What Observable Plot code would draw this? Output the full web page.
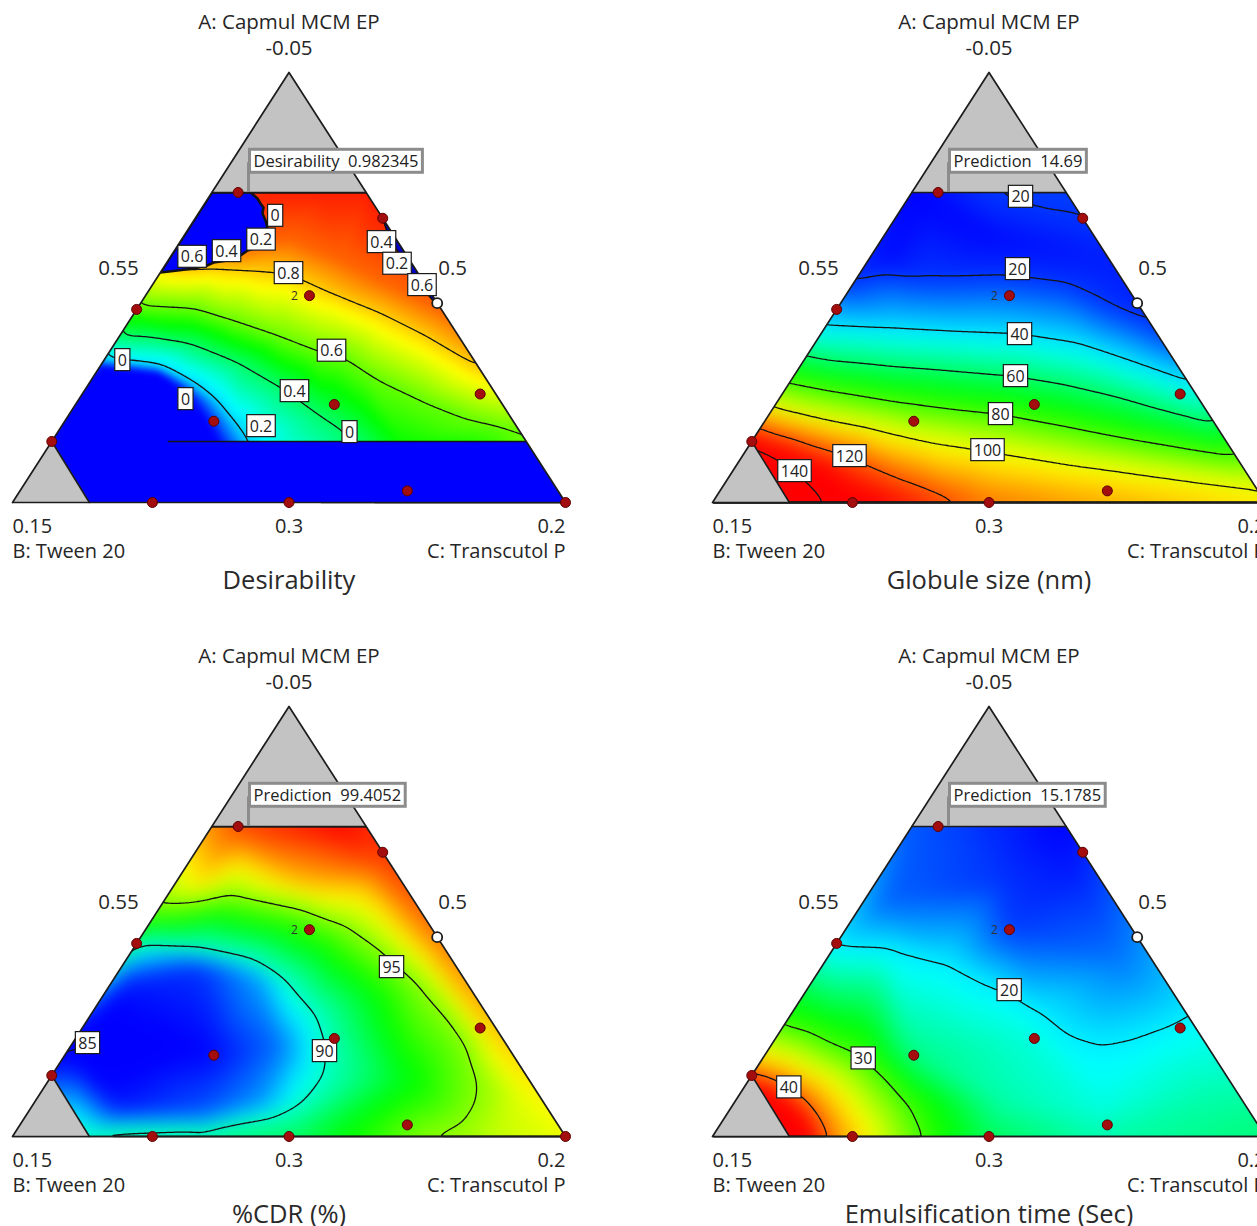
<!DOCTYPE html>
<html><head><meta charset="utf-8">
<script src="https://cdn.jsdelivr.net/npm/d3@7"></script>
<script src="https://cdn.jsdelivr.net/npm/@observablehq/plot@0.6"></script>
<style>
html,body{margin:0;padding:0;background:#fff}
body{width:1257px;height:1226px;overflow:hidden;position:relative;font-family:'Open Sans',sans-serif}
.panel{position:absolute;width:640px;height:600px}
.panel svg{max-width:none!important}
</style></head><body>
<div id="p0" class="panel" style="left:0;top:0"></div>
<div id="p1" class="panel" style="left:700px;top:0"></div>
<div id="p2" class="panel" style="left:0;top:634px"></div>
<div id="p3" class="panel" style="left:700px;top:634px"></div>
<script>
// ---------- shared text ----------
const componentNames = ["A: Capmul MCM EP", "B: Tween 20", "C: Transcutol P"];
const vertexTicks = ["-0.05", "0.15", "0.2"];          // A apex, B left, C right
const edgeTicks = ["0.55", "0.5", "0.3"];              // A-B edge, A-C edge, B-C edge
const panelTitles = ["Desirability", "Globule size (nm)", "%CDR (%)", "Emulsification time (Sec)"];
const predLabels = ["Desirability", "Prediction", "Prediction", "Prediction"];
const predValues = ["0.982345", "14.69", "99.4052", "15.1785"];

// ternary plane: x along B-C base (0..1), y height towards A (0..1)
const CUT_A = 0.7209;                 // upper constraint (top grey region)
const CUT_B = [[0.071, 0.1419], [0.139, 0]]; // lower-left constraint (grey corner)
const PRED_X = 0.4268;

// design points [x, y, kind]
const designPts = [
  [0.408, 0.7209, "r"], [0.6695, 0.661, "r"], [0.537, 0.481, "r"], [0.768, 0.4635, "w"],
  [0.2245, 0.449, "r"], [0.8457, 0.2523, "r"], [0.582, 0.228, "r"], [0.364, 0.189, "r"],
  [0.071, 0.1419, "r"], [0.714, 0.027, "r"], [0.253, 0, "r"], [0.5, 0, "r"], [1, 0, "r"]
];

// ---------- Panel 1: Desirability ----------
const des_097 = [[0.4665,0.7209],[0.5570,0.7209],[0.6383,0.7209],[0.6655,0.6674],[0.5208,0.7721]];
const des_090 = [[0.2676,0.5977],[0.3942,0.5907],[0.5027,0.6093],[0.5931,0.5628],[0.6835,0.5047],[0.7830,0.4419]];
const des_080 = [[0.2495,0.5581],[0.3110,0.5395],[0.3671,0.5442],[0.4304,0.5395],[0.5009,0.5302],[0.5678,0.4907],[0.6709,0.4372],[0.7396,0.3930],[0.8101,0.3395],[0.8463,0.3116]];
const des_060 = [[0.2260,0.4581],[0.3255,0.4512],[0.3942,0.4233],[0.4846,0.3837],[0.5515,0.3512],[0.6022,0.3349],[0.6474,0.2953],[0.7432,0.2372],[0.8336,0.1907],[0.9150,0.1651]];
const des_040 = [[0.1899,0.3884],[0.3219,0.3698],[0.4123,0.3233],[0.4901,0.2651],[0.5624,0.1977],[0.5986,0.1674],[0.6239,0.1442],[0.6383,0.0977]];
const des_020 = [[0.1609,0.3302],[0.2622,0.3140],[0.3219,0.2767],[0.3707,0.2302],[0.3996,0.1837],[0.4213,0.1442],[0.4304,0.0977]];
const des_000 = [[0.1573,0.3186],[0.2622,0.3023],[0.3128,0.2558],[0.3490,0.1953],[0.3725,0.1395],[0.3852,0.0744]];
const des_extra = [
  {v:0.5,x:0.7016,y:0.1326},{v:0.55,x:0.8644,y:0.1488},
  {v:-0.5,x:0.0868,y:0.1907},{v:-0.5,x:0.1953,y:0.1674},{v:-0.5,x:0.2495,y:0.0512},{v:-0.3,x:0.1410,y:0.2605}
];
const des_zeroTopLeft = [[0.3605,0.7209],[0.4304,0.7209],[0.4430,0.7070],[0.4485,0.6953],[0.4539,0.6860],[0.4521,0.6721],[0.4575,0.6558],[0.4611,0.6395],[0.4485,0.6256],[0.4539,0.6140],[0.4430,0.5930],[0.4250,0.5860],[0.4123,0.5744],[0.3888,0.5628],[0.3635,0.5581],[0.3526,0.5512],[0.3273,0.5442],[0.2984,0.5395],[0.2674,0.5349],[0.3605,0.7209]];
const des_zeroRight = [[0.6686,0.6628],[0.7674,0.4651],[0.7631,0.4651],[0.7378,0.5047],[0.7161,0.5442],[0.6980,0.5814],[0.6799,0.6209],[0.6686,0.6628]];
const des_zeroBottom = [[0.0710,0.1419],[0.9290,0.1419],[1,0],[0.1390,0],[0.0710,0.1419]];
const des_zeroEdge = [[0.2821,0.1419],[0.9290,0.1419]];
const des_labels = [["0",0.4750,0.6658],["0.2",0.4494,0.6105],["0.4",0.3870,0.5837],["0.6",0.3248,0.5705],["0.8",0.4991,0.5326],
  ["0.4",0.6673,0.6047],["0.2",0.6953,0.5544],["0.6",0.7405,0.5047],["0",0.1986,0.3302],["0.6",0.5769,0.3521],
  ["0.4",0.5099,0.2581],["0",0.3128,0.2395],["0.2",0.4494,0.1767],["0",0.6094,0.1628]];

// ---------- Panel 2: Globule size ----------
const gs_20a = [[0.4800,0.7350],[0.4937,0.7186],[0.5208,0.7070],[0.5570,0.6907],[0.5986,0.6791],[0.6420,0.6721],[0.6745,0.6651],[0.7000,0.6600]];
const gs_20b = [[0.2405,0.5070],[0.3888,0.5186],[0.5271,0.5233],[0.6311,0.5070],[0.6998,0.4663],[0.7500,0.4380],[0.7893,0.4140],[0.8011,0.4070],[0.8300,0.3900]];
const gs_40 = [[0.1890,0.4130],[0.3201,0.4047],[0.4575,0.3953],[0.5552,0.3907],[0.6655,0.3686],[0.7685,0.3242],[0.8680,0.2791]];
const gs_60 = [[0.1537,0.3442],[0.2166,0.3286],[0.3201,0.3163],[0.4237,0.3065],[0.5479,0.2930],[0.6307,0.2753],[0.7342,0.2442],[0.8170,0.2133],[0.9114,0.1814]];
const gs_80 = [[0.1266,0.2798],[0.2166,0.2577],[0.3201,0.2353],[0.4237,0.2177],[0.5203,0.2047],[0.6307,0.1777],[0.7342,0.1512],[0.8372,0.1288],[0.9476,0.1070]];
const gs_100 = [[0.1096,0.2221],[0.1958,0.1953],[0.2857,0.1733],[0.3888,0.1423],[0.4991,0.1209],[0.6307,0.0935],[0.7342,0.0756],[0.8584,0.0535],[0.9873,0.0337]];
const gs_120 = [[0.0814,0.1698],[0.1682,0.1379],[0.2477,0.1070],[0.3544,0.0488],[0.4448,0.0047],[0.4756,-0.0186]];
const gs_140 = [[0.0796,0.1372],[0.1193,0.1023],[0.1591,0.0605],[0.2025,0.0047],[0.2170,-0.0186]];
const gs_extra = [
  {v:14,x:0.3761,y:0.7140},{v:14,x:0.3400,y:0.6442},{v:15,x:0.5208,y:0.6093},{v:16,x:0.6293,y:0.5860},
  {v:15,x:0.3038,y:0.5628},{v:21,x:0.6329,y:0.7209},{v:21.5,x:0.6700,y:0.7400},{v:19,x:0.6900,y:0.6200},{v:17,x:0.7100,y:0.5600},
  {v:18,x:0.7600,y:0.4650},{v:18,x:0.7600,y:0.6000},{v:18.5,x:0.8100,y:0.5000},{v:19.5,x:0.8600,y:0.4200},
  {v:150,x:0.1085,y:0.0512},{v:112,x:0.6655,y:0},{v:104,x:1,y:0}
];
const gs_labels = [["20",0.5570,0.7100],["20",0.5515,0.5419],["40",0.5552,0.3907],["60",0.5479,0.2930],
  ["80",0.5208,0.2047],["100",0.4973,0.1209],["120",0.2477,0.1070],["140",0.1483,0.0721]];

// ---------- Panel 3: %CDR ----------
const cdr_85 = [[0.1085,0.2372],[0.1591,0.2302],[0.1844,0.2140],[0.1591,0.1977],[0.1085,0.1884]];
const cdr_90 = [[0.2170,0.4442],[0.3248,0.4372],[0.4286,0.4105],[0.4973,0.3570],[0.5461,0.2860],[0.5642,0.2140],[0.5606,0.1442],[0.5257,0.0814],[0.4629,0.0451],[0.3248,0.0186],[0.1863,0.0140],[0.1230,0.0116]];
const cdr_95 = [[0.2640,0.5372],[0.3942,0.5628],[0.5325,0.5256],[0.6022,0.4907],[0.6709,0.4279],[0.7396,0.3488],[0.7957,0.2674],[0.8250,0.2100],[0.8373,0.1521],[0.8400,0.1150],[0.8373,0.0814],[0.8101,0.0279],[0.7335,-0.0084]];
const cdr_extra = [
  {v:84.5,x:0.0904,y:0.2140},{v:85.3,x:0.2676,y:0.2000},{v:85.6,x:0.3635,y:0.1930},{v:87,x:0.4756,y:0.2116},
  {v:86,x:0.1953,y:0.0558},{v:86.8,x:0.3400,y:0.0488},{v:87.8,x:0.4485,y:0.0721},
  {v:85.8,x:0.1953,y:0.3512},{v:86.3,x:0.3400,y:0.3977},{v:88,x:0.4485,y:0.3744},
  {v:90.8,x:0.1591,y:0},{v:91,x:0.3400,y:0},{v:91.8,x:0.5208,y:0},{v:92.5,x:0.7000,y:0.1300},
  {v:100.5,x:0.5931,y:0.7209},{v:100,x:0.6329,y:0.7209},{v:99.5,x:0.4123,y:0.7209},{v:98.5,x:0.3671,y:0.7209},{v:99.5,x:0.6564,y:0.6419},
  {v:97.3,x:0.3400,y:0.5953},{v:97.8,x:0.5208,y:0.5953},{v:98,x:0.7468,y:0.4558},{v:97,x:0.8644,y:0.2233},
  {v:96.3,x:0.9186,y:0.0837},{v:96.5,x:1,y:0},{v:95.8,x:0.8644,y:0}
];
const cdr_labels = [["85",0.1356,0.2163],["90",0.5642,0.1977],["95",0.6854,0.3930]];

// ---------- Panel 4: Emulsification time ----------
const et_20 = [[0.2206,0.4419],[0.3219,0.4372],[0.4250,0.4023],[0.4937,0.3558],[0.5389,0.3349],[0.5841,0.2930],[0.6329,0.2419],[0.7016,0.2140],[0.7722,0.2326],[0.8282,0.2581],[0.8680,0.2860]];
const et_30 = [[0.1248,0.2581],[0.1772,0.2395],[0.2188,0.2116],[0.2725,0.1814],[0.3159,0.1302],[0.3521,0.0767],[0.3792,0.0000],[0.3850,-0.0150]];
const et_40 = [[0.0687,0.1395],[0.1175,0.1233],[0.1591,0.0907],[0.1863,0.0488],[0.2061,-0.0023]];
const et_extra = [
  {v:15.2,x:0.4051,y:0.7209},{v:15.5,x:0.3671,y:0.7209},{v:13,x:0.6293,y:0.7209},{v:13.5,x:0.6564,y:0.6419},
  {v:14.5,x:0.5208,y:0.5953},{v:14.8,x:0.5371,y:0.4837},{v:16,x:0.3038,y:0.5488},{v:16.5,x:0.7378,y:0.4093},
  {v:21.5,x:0.7016,y:0.0605},{v:23,x:0.5208,y:0.0837},{v:23,x:0.8825,y:0.0837},{v:24.5,x:1,y:0},{v:23,x:0.7016,y:0},{v:25.5,x:0.4991,y:0},
  {v:24,x:0.3617,y:0.1930},{v:21.5,x:0.5787,y:0.2279},
  {v:46,x:0.0832,y:0.1186},{v:50,x:0.1410,y:0.0140},{v:50,x:0.0506,y:0.0837}
];
const et_labels = [["20",0.5365,0.3395],["30",0.2725,0.1807],["40",0.1380,0.1133]];

// ---------- build tables ----------
const iso = (v, pts) => pts.map(([x, y]) => ({x, y, v}));
const desField = [...iso(0.97,des_097),...iso(0.9,des_090),...iso(0.8,des_080),...iso(0.6,des_060),...iso(0.4,des_040),...iso(0.2,des_020),...iso(0,des_000),...des_extra];
const gsField = [...iso(20,gs_20a),...iso(20,gs_20b),...iso(40,gs_40),...iso(60,gs_60),...iso(80,gs_80),...iso(100,gs_100),...iso(120,gs_120),...iso(140,gs_140),...gs_extra];
const cdrField = [...iso(85,cdr_85),...iso(90,cdr_90),...iso(95,cdr_95),...cdr_extra];
const etField = [...iso(20,et_20),...iso(30,et_30),...iso(40,et_40),...et_extra];

const ramp = d3.piecewise(d3.interpolateRgb, ["#0000ff", "#00ffff", "#00ff00", "#ffff00", "#ff0000"]);
const X = d => d[0], Y = d => d[1];

const outline = [[0,0],[0.5,1],[1,0],[0,0]];
const cutTop = [[CUT_A/2, CUT_A],[1 - CUT_A/2, CUT_A]];
const greyTop = [[CUT_A/2, CUT_A],[0.5,1],[1 - CUT_A/2, CUT_A]];
const greyLeft = [[0,0], CUT_B[0], CUT_B[1]];
const maskLeft = [[-0.06,-0.12],[0.38,0.76],[-0.06,0.76]];
const maskRight = [[1.06,-0.12],[0.62,0.76],[1.06,0.76]];

function lab(text, x, y, opts) {
  return Plot.text([text], {x: () => x, y: () => y, text: d => d, fill: "#262626", ...opts});
}

function boxify(svg, name, padX, padY, stroke, sw) {
  svg.querySelectorAll(`g[aria-description="${name}"] text`).forEach(t => {
    const b = t.getBBox();
    const r = document.createElementNS("http://www.w3.org/2000/svg", "rect");
    r.setAttribute("x", b.x - padX); r.setAttribute("y", b.y - padY);
    r.setAttribute("width", b.width + 2 * padX); r.setAttribute("height", b.height + 2 * padY);
    r.setAttribute("fill", "white"); r.setAttribute("stroke", stroke); r.setAttribute("stroke-width", sw);
    const tr = t.getAttribute("transform"); if (tr) r.setAttribute("transform", tr);
    t.parentNode.insertBefore(r, t);
  });
}

function buildPanel(i, cfg) {
  const common = {x: "x", y: "y", interpolate: "barycentric", x1: 0, x2: 1, y1: 0, y2: CUT_A};
  const plot = Plot.plot({
    width: 640, height: 600,
    marginTop: 0, marginRight: 0, marginBottom: 0, marginLeft: 0,
    x: {domain: [0, 1], range: [12, 565], axis: null},
    y: {domain: [0, 1], range: [502, 72], axis: null},
    color: {type: "linear", domain: cfg.domain, interpolate: ramp, clamp: true},
    style: {fontFamily: "'Open Sans', sans-serif", background: "transparent", overflow: "visible"},
    marks: [
      Plot.raster(cfg.field, {...common, fill: "v", blur: cfg.blur}),
      Plot.contour(cfg.field, {...common, value: "v", thresholds: cfg.thresholds, blur: cfg.cblur, fill: "none", stroke: "#141414", strokeWidth: 1.3}),
      ...(cfg.overlays || []),
      Plot.line(maskLeft, {x: X, y: Y, fill: "white", stroke: "none"}),
      Plot.line(maskRight, {x: X, y: Y, fill: "white", stroke: "none"}),
      Plot.line(greyTop, {x: X, y: Y, fill: "#c3c3c3", stroke: "none"}),
      Plot.line(greyLeft, {x: X, y: Y, fill: "#c3c3c3", stroke: "none"}),
      Plot.line(outline, {x: X, y: Y, stroke: "#1c1c1c", strokeWidth: 1.7}),
      Plot.line(cutTop, {x: X, y: Y, stroke: "#1c1c1c", strokeWidth: 1.6}),
      Plot.line(CUT_B, {x: X, y: Y, stroke: "#1c1c1c", strokeWidth: 1.6}),
      Plot.text(cfg.labels, {x: d => d[1], y: d => d[2], text: d => d[0], fontSize: 16, fill: "#222", ariaDescription: "clabel"}),
      Plot.ruleX([PRED_X], {x: d => d, y1: CUT_A, y2: 0.79, stroke: "#8c8c8c", strokeWidth: 3}),
      Plot.text([0], {x: () => PRED_X, y: () => CUT_A, dx: 5, dy: -30.5, textAnchor: "start",
        text: () => `${predLabels[i]}  ${predValues[i]}`, fontSize: 16.5, fill: "#222", ariaDescription: "predbox"}),
      Plot.dot(designPts.filter(d => d[2] === "r"), {x: X, y: Y, r: 5, fill: "#a30d0d", stroke: "#5c0000", strokeWidth: 1}),
      Plot.dot(designPts.filter(d => d[2] === "w"), {x: X, y: Y, r: 5, fill: "white", stroke: "#1c1c1c", strokeWidth: 1.8}),
      Plot.text([designPts[2]], {x: X, y: Y, text: () => "2", dx: -15, fontSize: 12, fill: "#333"}),
      lab(componentNames[0], 0.5, 1, {dy: -50, fontSize: 20.5}),
      lab(vertexTicks[0], 0.5, 1, {dy: -24, fontSize: 20.5}),
      lab(edgeTicks[0], 0.25, 0.5, {dx: -12, dy: -19, fontSize: 20.5, textAnchor: "end"}),
      lab(edgeTicks[1], 0.75, 0.5, {dx: 11, dy: -19, fontSize: 20.5, textAnchor: "start"}),
      lab(vertexTicks[1], 0, 0, {dy: 24, fontSize: 20, textAnchor: "start"}),
      lab(componentNames[1], 0, 0, {dy: 49, fontSize: 20, textAnchor: "start"}),
      lab(edgeTicks[2], 0.5, 0, {dy: 24, fontSize: 20}),
      lab(vertexTicks[2], 1, 0, {dy: 24, fontSize: 20, textAnchor: "end"}),
      lab(componentNames[2], 1, 0, {dy: 49, fontSize: 20, textAnchor: "end"}),
      lab(panelTitles[i], 0.5, 0, {dy: 78, fontSize: 25.5, fill: "#2a2a2a"})
    ]
  });
  const el = document.getElementById("p" + i);
  el.appendChild(plot);
  boxify(plot, "clabel", 3, 0, "#1a1a1a", 1.2);
  boxify(plot, "predbox", 4, 0, "#8c8c8c", 3);
}

buildPanel(0, {
  field: desField, domain: [0, 1], thresholds: [0.2, 0.4, 0.6, 0.8], labels: des_labels, blur: 3, cblur: 3,
  overlays: [
    Plot.line(des_zeroBottom, {x: X, y: Y, fill: "#0000ff", stroke: "none"}),
    Plot.line(des_zeroEdge, {x: X, y: Y, stroke: "#141414", strokeWidth: 1.6}),
    Plot.line(des_zeroTopLeft, {x: X, y: Y, fill: "#0000ff", stroke: "#111", strokeWidth: 2.5}),
    Plot.line(des_zeroRight, {x: X, y: Y, fill: "#0000c8", stroke: "#111", strokeWidth: 1.5})
  ]
});
buildPanel(1, {field: gsField, domain: [14, 130], thresholds: [20, 40, 60, 80, 100, 120, 140], labels: gs_labels, blur: 9, cblur: 3});
buildPanel(2, {field: cdrField, domain: [85.5, 100.5], thresholds: [85, 90, 95], labels: cdr_labels, blur: 9, cblur: 3});
buildPanel(3, {field: etField, domain: [13, 43], thresholds: [20, 30, 40], labels: et_labels, blur: 9, cblur: 3});
</script>
</body></html>
